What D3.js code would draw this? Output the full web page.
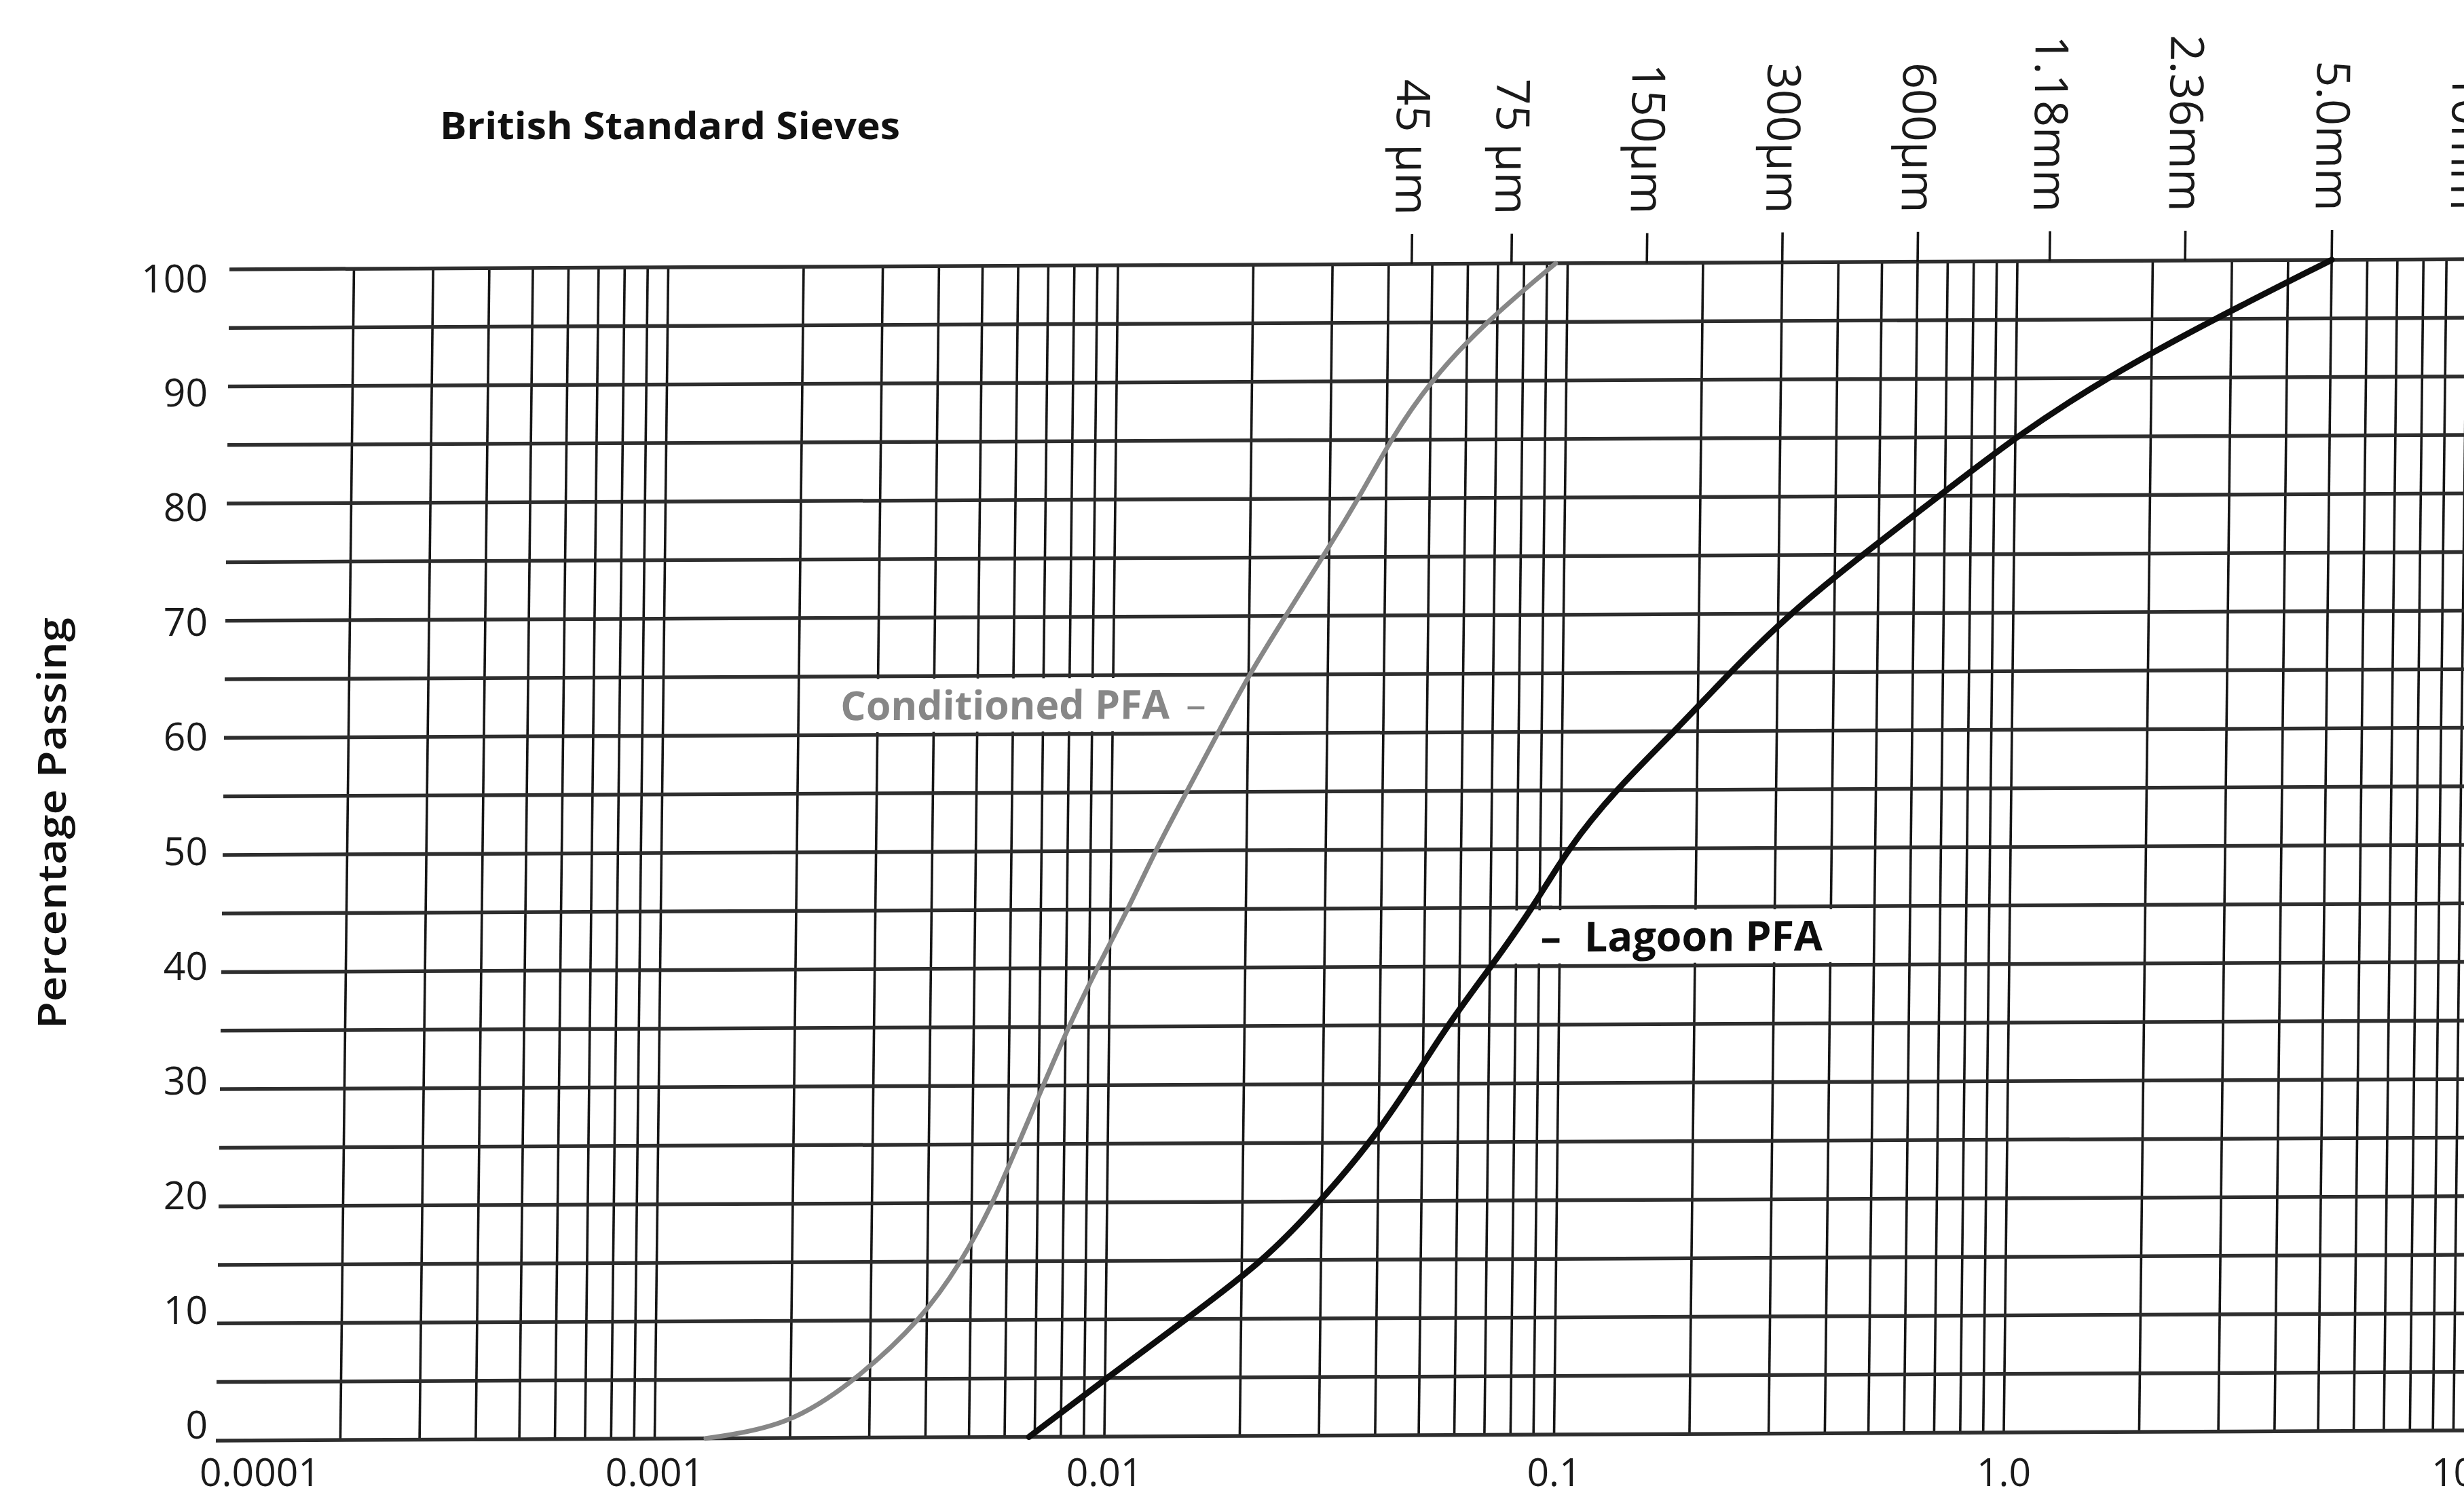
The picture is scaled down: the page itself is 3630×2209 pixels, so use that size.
<!DOCTYPE html>
<html lang="en">
<head>
<meta charset="utf-8">
<title>PFA grading curves</title>
<script src="https://cdn.jsdelivr.net/npm/d3@7"></script>
<style>
  html, body { margin: 0; padding: 0; background: #fff; }
  svg { display: block; }
  text { font-family: "Open Sans", "Noto Sans", sans-serif; }
</style>
</head>
<body>
<div id="chart"></div>
<script>
// particle size in mm, percentage passing
var sizeTicks = [0.0001, 0.001, 0.01, 0.1, 1, 10];
var sizeTickLabels = ["0.0001", "0.001", "0.01", "0.1", "1.0", "10"];
var percentTicks = [0, 10, 20, 30, 40, 50, 60, 70, 80, 90, 100];

var sieveSizes = [0.045, 0.075, 0.15, 0.3, 0.6, 1.18, 2.36, 5.0, 10];
var sieveLabels = ["45 µm", "75 µm", "150µm", "300µm", "600µm", "1.18mm", "2.36mm", "5.0mm", "10mm"];

var conditionedSize    = [0.0013, 0.00198, 0.00281, 0.00388, 0.00477, 0.00558, 0.00632, 0.00716, 0.00812, 0.00936, 0.01094, 0.01253, 0.01466, 0.01714, 0.02004, 0.0241, 0.029, 0.0348, 0.0408, 0.0498, 0.0658, 0.094];
var conditionedPassing = [0, 1, 5, 10, 15, 20, 25, 30, 35, 40, 45, 50, 55, 60, 65, 70, 75, 80, 85, 90, 95, 100];

var lagoonSize    = [0.0068, 0.0101, 0.0151, 0.0225, 0.0298, 0.0384, 0.047, 0.0565, 0.0705, 0.087, 0.1035, 0.1317, 0.178, 0.235, 0.318, 0.46, 0.68, 1.0, 1.58, 2.75, 5.0];
var lagoonPassing = [0, 5, 10, 15, 20, 25, 30, 35, 40, 45, 50, 55, 60, 65, 70, 75, 80, 85, 90, 95, 100];

var W = 3630, H = 2209;

var x = d3.scaleLog().domain([0.0001, 10]).range([302, 3614.5]);
var y = d3.scaleLinear().domain([0, 100]).range([2117, 391]);
// printed percentage labels sit a little off the ruled lines
var yLabel = d3.scaleLinear().domain([0, 100]).range([2099, 410]);

var svg = d3.select("#chart").append("svg")
    .attr("width", W)
    .attr("height", H);

svg.append("rect").attr("width", W).attr("height", H).attr("fill", "#fff");

// the scanned sheet is slightly sheared, pivot at 0.01 / 0%
var x0 = x(0.01), y0 = y(0);
var g = svg.append("g")
    .attr("transform", "translate(" + x0 + "," + y0 + ") matrix(1,-0.0045,-0.0116,1,0,0) translate(" + (-x0) + "," + (-y0) + ")");

// vertical grid
var vgrid = x.ticks().filter(function(d) { return d > 0.00011; });
g.append("g").selectAll("line")
    .data(vgrid)
    .enter().append("line")
    .attr("x1", function(d) { return x(d); })
    .attr("x2", function(d) { return x(d); })
    .attr("y1", y(100))
    .attr("y2", y(0))
    .style("stroke", "#161616")
    .style("stroke-width", 3.6);

// horizontal grid, every 5%
g.append("g").selectAll("line")
    .data(y.ticks(20))
    .enter().append("line")
    .attr("x1", x(0.0001) + 16)
    .attr("x2", W + 40)
    .attr("y1", function(d) { return y(d); })
    .attr("y2", function(d) { return y(d); })
    .style("stroke", "#2e2e2e")
    .style("stroke-width", 5.5);

// sieve ticks along the top
g.append("g").selectAll("line")
    .data(sieveSizes)
    .enter().append("line")
    .attr("x1", function(d) { return x(d); })
    .attr("x2", function(d) { return x(d); })
    .attr("y1", y(100))
    .attr("y2", y(100) - 44)
    .style("stroke", "#161616")
    .style("stroke-width", 3.6);

g.append("g").selectAll("text")
    .data(sieveSizes)
    .enter().append("text")
    .attr("transform", function(d) { return "translate(" + x(d) + "," + (y(100) - 72) + ") rotate(90)"; })
    .attr("text-anchor", "end")
    .attr("dy", "0.36em")
    .style("font-size", "68px")
    .style("fill", "#1a1a1a")
    .text(function(d, i) { return sieveLabels[i]; });

// label boxes interrupt the grid
var labelBoxes = [
  {from: 0.00236, to: 0.01744, lo: 60, hi: 65},
  {from: 0.0748, to: 0.4255, lo: 40, hi: 45}
];
g.append("g").selectAll("rect")
    .data(labelBoxes)
    .enter().append("rect")
    .attr("x", function(d) { return x(d.from); })
    .attr("width", function(d) { return x(d.to) - x(d.from); })
    .attr("y", function(d) { return y(d.hi) + 4; })
    .attr("height", function(d) { return y(d.lo) - y(d.hi) - 8; })
    .attr("fill", "#fff");

// curves
var line = d3.line()
    .x(function(d) { return x(d[0]); })
    .y(function(d) { return y(d[1]); })
    .curve(d3.curveBasis);

g.append("path")
    .datum(d3.zip(conditionedSize, conditionedPassing))
    .attr("d", line)
    .style("fill", "none")
    .style("stroke", "#878787")
    .style("stroke-width", 7)
    .style("stroke-linecap", "round");

g.append("path")
    .datum(d3.zip(lagoonSize, lagoonPassing))
    .attr("d", line)
    .style("fill", "none")
    .style("stroke", "#0d0d0d")
    .style("stroke-width", 9)
    .style("stroke-linecap", "round");

// curve labels
g.append("text")
    .attr("x", x(0.00248))
    .attr("y", y(62.5))
    .attr("dy", "0.36em")
    .style("font-size", "59px")
    .style("font-weight", "bold")
    .style("fill", "#878787")
    .text("Conditioned PFA")
  .append("tspan")
    .attr("dx", 24)
    .style("font-weight", "normal")
    .text("–");

g.append("text")
    .attr("x", x(0.0906))
    .attr("y", y(42.5))
    .attr("dy", "0.36em")
    .style("font-size", "61px")
    .style("font-weight", "bold")
    .style("fill", "#0d0d0d")
    .text("–")
  .append("tspan")
    .attr("dx", 34)
    .text("Lagoon PFA");

// x tick labels
svg.append("g").selectAll("text")
    .data(sizeTicks)
    .enter().append("text")
    .attr("x", function(d, i) { return i === 0 ? x(d) - 8 : x(d); })
    .attr("y", 2190)
    .attr("text-anchor", function(d, i) { return i === 0 ? "start" : "middle"; })
    .style("font-size", "57px")
    .style("fill", "#1a1a1a")
    .text(function(d, i) { return sizeTickLabels[i]; });

// y tick labels
svg.append("g").selectAll("text")
    .data(percentTicks)
    .enter().append("text")
    .attr("x", 306)
    .attr("y", function(d) { return yLabel(d); })
    .attr("dy", "0.36em")
    .attr("text-anchor", "end")
    .style("font-size", "57px")
    .style("fill", "#1a1a1a")
    .text(function(d) { return d; });

// titles
svg.append("text")
    .attr("x", 648)
    .attr("y", 205)
    .attr("textLength", 678)
    .attr("lengthAdjust", "spacingAndGlyphs")
    .style("font-size", "56px")
    .style("font-weight", "bold")
    .style("fill", "#111")
    .text("British Standard Sieves");

svg.append("text")
    .attr("transform", "translate(76,1213) rotate(-90)")
    .attr("text-anchor", "middle")
    .attr("dy", "0.36em")
    .attr("textLength", 606)
    .attr("lengthAdjust", "spacingAndGlyphs")
    .style("font-size", "58px")
    .style("font-weight", "600")
    .style("fill", "#111")
    .text("Percentage Passing");
</script>
</body>
</html>
